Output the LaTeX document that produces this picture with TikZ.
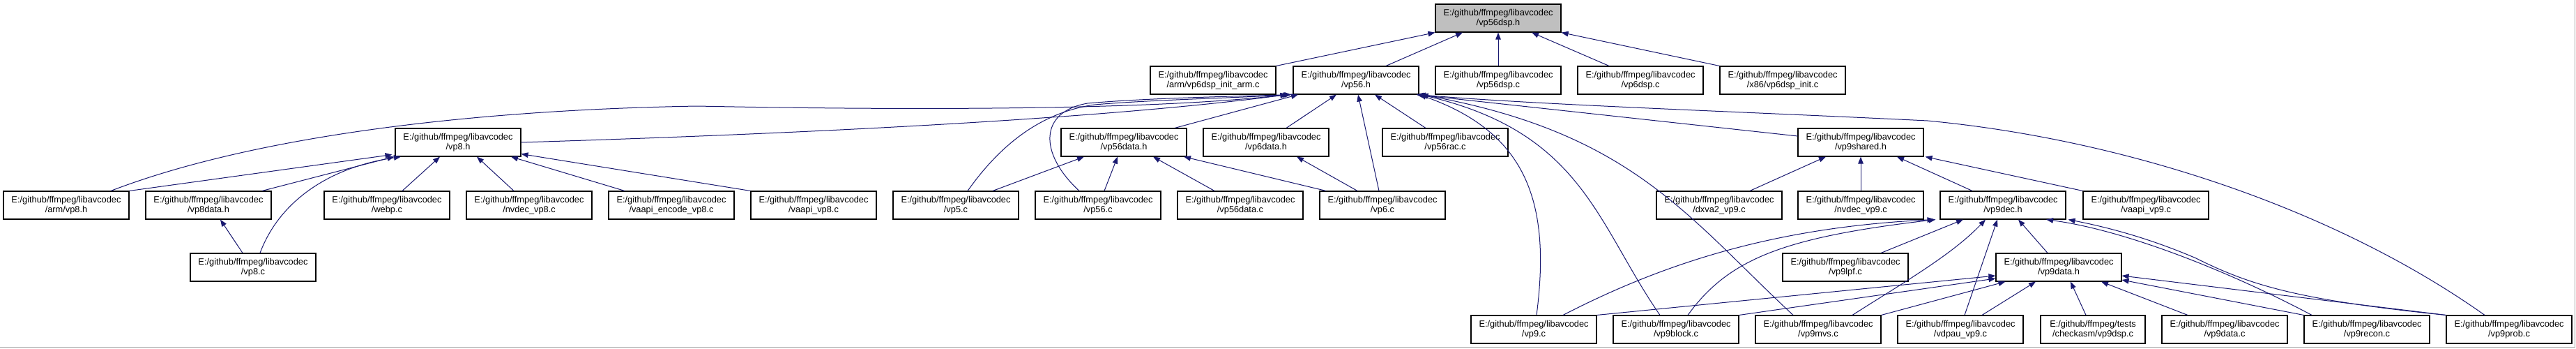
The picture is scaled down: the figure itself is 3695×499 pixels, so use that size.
\documentclass[tikz,border=0pt]{standalone}
\usepackage{fontspec}
\setmainfont{Liberation Sans}
\usetikzlibrary{arrows.meta}
\definecolor{edgeblue}{RGB}{25,25,112}
\definecolor{framegray}{RGB}{170,170,170}
\definecolor{hlgray}{RGB}{191,191,191}
\begin{document}
\begin{tikzpicture}[x=1pt,y=-1pt,
  file/.style={draw=black, line width=1.1pt, fill=white, minimum width=180pt, minimum height=40pt, inner sep=0pt, align=center, font=\fontsize{12.8pt}{13.5pt}\selectfont},
  cur/.style={file, fill=hlgray},
  edge/.style={draw=edgeblue, line width=1pt, -{Triangle[length=10pt,width=7.5pt]}},
]
\useasboundingbox (0,0) rectangle (3695,499);
\fill[white] (0,0) rectangle (3695,499);
\draw[framegray, line width=1pt] (0,497.5) -- (3693.5,497.5) -- (3693.5,0);

% row 1
\node[cur] (vpdsph) at (2149,26) {E:/github/ffmpeg/libavcodec\\/vp56dsp.h};
% row 2
\node[file] (arminit) at (1740,115) {E:/github/ffmpeg/libavcodec\\/arm/vp6dsp\_init\_arm.c};
\node[file] (vpsixh) at (1945,115) {E:/github/ffmpeg/libavcodec\\/vp56.h};
\node[file] (vpdspc) at (2149,115) {E:/github/ffmpeg/libavcodec\\/vp56dsp.c};
\node[file] (vpsixdspc) at (2353,115) {E:/github/ffmpeg/libavcodec\\/vp6dsp.c};
\node[file] (xinit) at (2557,115) {E:/github/ffmpeg/libavcodec\\/x86/vp6dsp\_init.c};
% row 3
\node[file] (vp8h) at (657,204) {E:/github/ffmpeg/libavcodec\\/vp8.h};
\node[file] (vp56datah) at (1612,204) {E:/github/ffmpeg/libavcodec\\/vp56data.h};
\node[file] (vp6datah) at (1816,204) {E:/github/ffmpeg/libavcodec\\/vp6data.h};
\node[file] (vp56racc) at (2073,204) {E:/github/ffmpeg/libavcodec\\/vp56rac.c};
\node[file] (vp9sharedh) at (2669,204) {E:/github/ffmpeg/libavcodec\\/vp9shared.h};
% row 4
\node[file] (armvp8) at (95,294) {E:/github/ffmpeg/libavcodec\\/arm/vp8.h};
\node[file] (vp8datah) at (299,294) {E:/github/ffmpeg/libavcodec\\/vp8data.h};
\node[file] (webpc) at (555,294) {E:/github/ffmpeg/libavcodec\\/webp.c};
\node[file] (nvdecvp8) at (759,294) {E:/github/ffmpeg/libavcodec\\/nvdec\_vp8.c};
\node[file] (vaapiencvp8) at (963,294) {E:/github/ffmpeg/libavcodec\\/vaapi\_encode\_vp8.c};
\node[file] (vaapivp8) at (1167,294) {E:/github/ffmpeg/libavcodec\\/vaapi\_vp8.c};
\node[file] (vp5c) at (1371,294) {E:/github/ffmpeg/libavcodec\\/vp5.c};
\node[file] (vp56c) at (1575,294) {E:/github/ffmpeg/libavcodec\\/vp56.c};
\node[file] (vp56datac) at (1779,294) {E:/github/ffmpeg/libavcodec\\/vp56data.c};
\node[file] (vp6c) at (1983,294) {E:/github/ffmpeg/libavcodec\\/vp6.c};
\node[file] (dxva) at (2466,294) {E:/github/ffmpeg/libavcodec\\/dxva2\_vp9.c};
\node[file] (nvdecvp9) at (2669,294) {E:/github/ffmpeg/libavcodec\\/nvdec\_vp9.c};
\node[file] (vp9dech) at (2873,294) {E:/github/ffmpeg/libavcodec\\/vp9dec.h};
\node[file] (vaapivp9) at (3078,294) {E:/github/ffmpeg/libavcodec\\/vaapi\_vp9.c};
% row 5
\node[file] (vp8c) at (363,383) {E:/github/ffmpeg/libavcodec\\/vp8.c};
\node[file] (vp9lpfc) at (2647,383) {E:/github/ffmpeg/libavcodec\\/vp9lpf.c};
\node[file] (vp9datah) at (2953,383) {E:/github/ffmpeg/libavcodec\\/vp9data.h};
% row 6
\node[file] (vp9c) at (2200,472) {E:/github/ffmpeg/libavcodec\\/vp9.c};
\node[file] (vp9blockc) at (2404,472) {E:/github/ffmpeg/libavcodec\\/vp9block.c};
\node[file] (vp9mvsc) at (2608,472) {E:/github/ffmpeg/libavcodec\\/vp9mvs.c};
\node[file] (vdpauvp9) at (2812,472) {E:/github/ffmpeg/libavcodec\\/vdpau\_vp9.c};
\node[file, minimum width=150pt] (checkasm) at (3002,472) {E:/github/ffmpeg/tests\\/checkasm/vp9dsp.c};
\node[file] (vp9datac) at (3191,472) {E:/github/ffmpeg/libavcodec\\/vp9data.c};
\node[file] (vp9reconc) at (3395,472) {E:/github/ffmpeg/libavcodec\\/vp9recon.c};
\node[file] (vp9probc) at (3599,472) {E:/github/ffmpeg/libavcodec\\/vp9prob.c};

% into vp56dsp.h
\draw[edge] (arminit.north east) -- (vpdsph.south west);
\draw[edge] ([xshift=43pt]vpsixh.north) -- ([xshift=-51pt]vpdsph.south);
\draw[edge] (vpdspc.north) -- (vpdsph.south);
\draw[edge] ([xshift=-45pt]vpsixdspc.north) -- ([xshift=48pt]vpdsph.south);
\draw[edge] (xinit.north west) -- (vpdsph.south east);

% into vp56.h
\draw[edge] (vp8h.east) .. controls (1200,190) and (1600,168) .. ([xshift=-8pt]vpsixh.south west);
\draw[edge] ([xshift=64pt]armvp8.north) .. controls (350,200) and (650,158) .. (1000,152) .. controls (1300,158) and (1650,158) .. ([xshift=-8pt]vpsixh.south west);
\draw[edge] ([xshift=17pt]vp5c.north) .. controls (1440,200) and (1500,160) .. (1570,150) .. controls (1650,143) and (1780,140) .. ([xshift=-4pt]vpsixh.south west);
\draw[edge] ([xshift=-27pt]vp56c.north) .. controls (1490,220) and (1490,160) .. (1560,148) .. controls (1650,140) and (1780,138) .. ([xshift=-2pt]vpsixh.south west);
\draw[edge] ([xshift=73pt]vp56datah.north) -- ([xshift=-83pt]vpsixh.south);
\draw[edge] ([xshift=29pt]vp6datah.north) -- ([xshift=-28pt]vpsixh.south);
\draw[edge] ([xshift=-5pt]vp6c.north) -- ([xshift=3pt]vpsixh.south);
\draw[edge] ([xshift=-28pt]vp56racc.north) -- ([xshift=27pt]vpsixh.south);
\draw[edge] ([yshift=9pt]vp9sharedh.west) -- ([xshift=-4pt]vpsixh.south east);
\draw[edge] ([xshift=4pt]vp9c.north) .. controls (2225,290) and (2190,190) .. (vpsixh.south east);
\draw[edge] ([xshift=-23pt]vp9blockc.north) .. controls (2290,320) and (2270,190) .. ([xshift=2pt]vpsixh.south east);
\draw[edge] ([xshift=-36pt]vp9mvsc.north) .. controls (2420,310) and (2340,190) .. ([xshift=3pt]vpsixh.south east);
\draw[edge] ([xshift=-35pt]vp9probc.north) .. controls (3350,300) and (3050,200) .. (2765,173) .. controls (2500,160) and (2200,150) .. ([xshift=-1pt]vpsixh.south east);

% into vp8.h
\draw[edge] (armvp8.north east) -- ([xshift=-4pt,yshift=3pt]vp8h.south west);
\draw[edge] ([xshift=77pt]vp8datah.north) -- ([xshift=-1pt]vp8h.south west);
\draw[edge] ([xshift=10pt]vp8c.north) .. controls (400,290) and (470,240) .. ([xshift=-82pt]vp8h.south);
\draw[edge] ([xshift=22pt]webpc.north) -- ([xshift=-26pt]vp8h.south);
\draw[edge] ([xshift=-22pt]nvdecvp8.north) -- ([xshift=27pt]vp8h.south);
\draw[edge] ([xshift=-67pt]vaapiencvp8.north) -- ([xshift=76pt]vp8h.south);
\draw[edge] (vaapivp8.north west) -- ([yshift=4pt]vp8h.south east);

% into vp8data.h
\draw[edge] ([xshift=-15pt]vp8c.north) -- ([xshift=17pt]vp8datah.south);

% into vp56data.h / vp6data.h
\draw[edge] ([xshift=53pt]vp5c.north) -- ([xshift=-57pt]vp56datah.south);
\draw[edge] ([xshift=9pt]vp56c.north) -- ([xshift=-9pt]vp56datah.south);
\draw[edge] ([xshift=-37pt]vp56datac.north) -- ([xshift=42pt]vp56datah.south);
\draw[edge] ([xshift=-81pt]vp6c.north) -- ([xshift=86pt]vp56datah.south);
\draw[edge] ([xshift=-36pt]vp6c.north) -- ([xshift=44pt]vp6datah.south);

% into vp9shared.h
\draw[edge] ([xshift=44pt]dxva.north) -- ([xshift=-50pt]vp9sharedh.south);
\draw[edge] (nvdecvp9.north) -- (vp9sharedh.south);
\draw[edge] ([xshift=-44pt]vp9dech.north) -- ([xshift=52pt]vp9sharedh.south);
\draw[edge] (vaapivp9.north west) -- ([xshift=2pt]vp9sharedh.south east);

% into vp9dec.h
\draw[edge] ([xshift=42pt]vp9c.north) .. controls (2400,370) and (2560,325) .. ([xshift=-8pt]vp9dech.south west);
\draw[edge] ([xshift=17pt]vp9blockc.north) .. controls (2480,370) and (2560,340) .. ([xshift=-6pt]vp9dech.south west);
\draw[edge] ([xshift=51pt]vp9lpfc.north) -- ([xshift=-57pt]vp9dech.south);
\draw[edge] ([xshift=49pt]vp9mvsc.north) .. controls (2730,405) and (2800,365) .. ([xshift=-25pt]vp9dech.south);
\draw[edge] ([xshift=6pt]vdpauvp9.north) -- ([xshift=-8pt]vp9dech.south);
\draw[edge] ([xshift=-16pt]vp9datah.north) -- ([xshift=22pt]vp9dech.south);
\draw[edge] ([xshift=-79pt]vp9reconc.north) .. controls (3200,390) and (3050,330) .. ([xshift=62pt]vp9dech.south);
\draw[edge] (vp9probc.north west) .. controls (3300,430) and (3230,410) .. (3150,370) .. controls (3080,340) and (3020,325) .. ([xshift=3pt]vp9dech.south east);

% into vp9data.h
\draw[edge] (vp9c.north east) -- ([yshift=-12pt]vp9datah.west);
\draw[edge] (vp9blockc.north east) -- ([yshift=-16pt]vp9datah.west);
\draw[edge] (vp9mvsc.north east) -- ([xshift=14pt]vp9datah.south west);
\draw[edge] ([xshift=31pt]vdpauvp9.north) -- ([xshift=-33pt]vp9datah.south);
\draw[edge] ([xshift=-10pt]checkasm.north) -- ([xshift=17pt]vp9datah.south);
\draw[edge] ([xshift=-53pt]vp9datac.north) -- ([xshift=61pt]vp9datah.south);
\draw[edge] (vp9reconc.north west) -- ([yshift=-18pt]vp9datah.east);
\draw[edge] (vp9probc.north west) -- ([yshift=-12pt]vp9datah.east);
\end{tikzpicture}
\end{document}
